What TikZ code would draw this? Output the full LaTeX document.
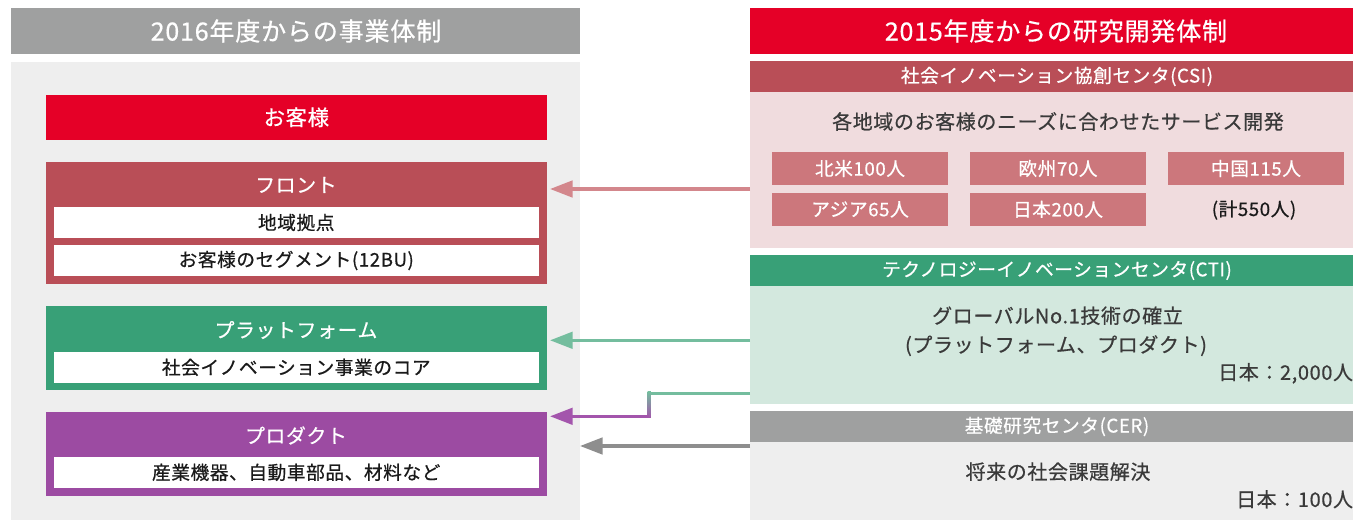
\documentclass[tikz,border=0pt]{standalone}
\usepackage{fontspec}
\setmainfont{Noto Sans CJK JP}[LetterSpace=3,FakeBold=0.6]
\usetikzlibrary{arrows.meta,fit}
\definecolor{hdgray}{HTML}{9FA0A0}
\definecolor{hred}{HTML}{E50027}
\definecolor{panelgray}{HTML}{EEEEEE}
\definecolor{frontred}{HTML}{B94E57}
\definecolor{platgreen}{HTML}{38A077}
\definecolor{prodpurple}{HTML}{9C4BA2}
\definecolor{csibody}{HTML}{F0DCDE}
\definecolor{csibox}{HTML}{CC777C}
\definecolor{ctibody}{HTML}{D3E8DE}
\definecolor{arrpink}{HTML}{D3878C}
\definecolor{arrgreen}{HTML}{74BD9E}
\definecolor{arrpurple}{HTML}{A355AC}
\definecolor{arrgray}{HTML}{8E8E8E}
\definecolor{txtdark}{HTML}{1A1A1A}
\definecolor{txtbody}{HTML}{3A3A3A}
\begin{document}
\begin{tikzpicture}[x=1pt,y=-1pt,
  blk/.style={rectangle,draw=none,inner sep=0pt,outer sep=0pt},
  tx/.style={inner sep=0pt,outer sep=0pt},
  fhead/.style={font=\fontsize{25.1}{29}\selectfont,text=white},
  fcust/.style={font=\fontsize{21.4}{25}\selectfont,text=white},
  ftitle/.style={font=\fontsize{19.9}{23}\selectfont,text=white},
  fwbox/.style={font=\fontsize{18.7}{22}\selectfont,text=txtdark},
  fsub/.style={font=\fontsize{18.7}{22}\selectfont,text=white},
  fbody/.style={font=\fontsize{20}{24}\selectfont,text=txtbody},
  fnum/.style={font=\fontsize{18.7}{22}\selectfont,text=txtdark},
  arr/.style={line width=3.3pt,-{Triangle[length=22.7pt,width=16.5pt]}}
]
\useasboundingbox (0,0) rectangle (1353,522);
% ---------- left side ----------
\node[blk,fill=hdgray,fit={(11,8) (580,53.7)}] (lhead) {};
\node[tx,fhead] (lheadtxt) at (296,31) {2016年度からの事業体制};
\node[blk,fill=panelgray,fit={(11,62) (580,520)}] (lpanel) {};
\node[blk,fill=hred,fit={(46,95) (546.7,139.7)}] (cust) {};
\node[tx,fcust] (custtxt) at (cust.center) {お客様};
\node[blk,fill=frontred,fit={(46,162) (546.7,283.7)}] (front) {};
\node[tx,ftitle] (fronttitle) at (296,185) {フロント};
\node[blk,fill=white,fit={(54,207.3) (538.5,237.7)}] (region) {};
\node[tx,fwbox] (regiontxt) at (region.center) {地域拠点};
\node[blk,fill=white,fit={(54,245) (538.5,276)}] (segment) {};
\node[tx,fwbox] (segmenttxt) at (segment.center) {お客様のセグメント(12BU)};
\node[blk,fill=platgreen,fit={(46,306) (546.7,390)}] (plat) {};
\node[tx,ftitle] (plattitle) at (296,330) {プラットフォーム};
\node[blk,fill=white,fit={(54,352) (538.5,382.7)}] (core) {};
\node[tx,fwbox] (coretxt) at (core.center) {社会イノベーション事業のコア};
\node[blk,fill=prodpurple,fit={(46,412) (546.7,495.7)}] (prod) {};
\node[tx,ftitle] (prodtitle) at (296,435.5) {プロダクト};
\node[blk,fill=white,fit={(54,456.7) (538.5,488)}] (items) {};
\node[tx,fwbox] (itemstxt) at (items.center) {産業機器、自動車部品、材料など};
% ---------- right side ----------
\node[blk,fill=hred,fit={(750,8) (1353,53.7)}] (rhead) {};
\node[tx,fhead] (rheadtxt) at (1056,31) {2015年度からの研究開発体制};
\node[blk,fill=frontred,fit={(750,61) (1353,92)}] (csihead) {};
\node[tx,fsub] (csiheadtxt) at (1057,76.5) {社会イノベーション協創センタ(CSI)};
\node[blk,fill=csibody,fit={(750,92) (1353,247.7)}] (csi) {};
\node[tx,fbody] (csitxt) at (1058,121.5) {各地域のお客様のニーズに合わせたサービス開発};
\node[blk,fill=csibox,fit={(772,152.3) (948,184.7)}] (na) {};
\node[tx,fsub] (natxt) at (na.center) {北米100人};
\node[blk,fill=csibox,fit={(970,152.3) (1146,184.7)}] (eu) {};
\node[tx,fsub] (eutxt) at (eu.center) {欧州70人};
\node[blk,fill=csibox,fit={(1168,152.3) (1344,184.7)}] (cn) {};
\node[tx,fsub] (cntxt) at (cn.center) {中国115人};
\node[blk,fill=csibox,fit={(772,193) (948,225.7)}] (asia) {};
\node[tx,fsub] (asiatxt) at (asia.center) {アジア65人};
\node[blk,fill=csibox,fit={(970,193) (1146,225.7)}] (jp) {};
\node[tx,fsub] (jptxt) at (jp.center) {日本200人};
\node[tx,fnum] (total) at (1254,210) {(計550人)};
\node[blk,fill=platgreen,fit={(750,255) (1353,285.7)}] (ctihead) {};
\node[tx,fsub] (ctiheadtxt) at (1057,270.5) {テクノロジーイノベーションセンタ(CTI)};
\node[blk,fill=ctibody,fit={(750,285.7) (1353,403.5)}] (cti) {};
\node[tx,fbody] (ctil1) at (1057.5,315.7) {グローバルNo.1技術の確立};
\node[tx,fbody] (ctil2) at (1056,345.7) {(プラットフォーム、プロダクト)};
\node[tx,fbody,anchor=east] (ctinum) at (1353,373.3) {日本：2,000人};
\node[blk,fill=hdgray,fit={(750,411) (1353,441.7)}] (cerhead) {};
\node[tx,fsub] (cerheadtxt) at (1057,426.5) {基礎研究センタ(CER)};
\node[blk,fill=panelgray,fit={(750,441.7) (1353,520)}] (cer) {};
\node[tx,fbody] (certxt) at (1058,471.7) {将来の社会課題解決};
\node[tx,fbody,anchor=east] (cernum) at (1353,499.3) {日本：100人};
% ---------- connectors ----------
\coordinate (a1s) at (750,189);
\coordinate (a1e) at (550,189);
\draw[arr,arrpink] (a1s) -- (a1e);
\coordinate (a2s) at (750,340.3);
\coordinate (a2e) at (550,340.3);
\draw[arr,arrgreen] (a2s) -- (a2e);
\coordinate (a3s) at (750,393.3);
\coordinate (a3k1) at (649.3,393.3);
\coordinate (a3k2) at (649.3,416.3);
\coordinate (a3e) at (550,416.3);
\draw[line width=3.3pt,arrgreen] (a3s) -- (a3k1);
\shade[top color=arrgreen,bottom color=arrpurple] (647.65,391.65) rectangle (650.95,417.95);
\draw[arr,arrpurple] (a3k2) -- (a3e);
\coordinate (a4s) at (750,446);
\coordinate (a4e) at (580,446);
\draw[arr,arrgray] (a4s) -- (a4e);
\end{tikzpicture}
\end{document}
